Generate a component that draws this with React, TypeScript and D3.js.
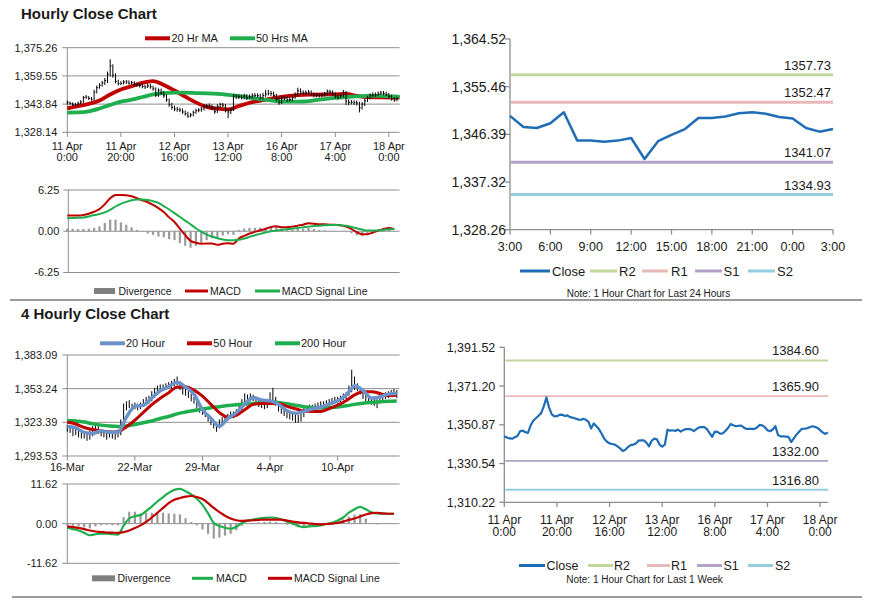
import React, { useEffect, useRef } from 'react';
import * as d3 from 'd3';

const FONT = '"Liberation Sans", Arial, Helvetica, sans-serif';
const GRID = '#8e8e8e';
const TEXT = '#1a1a1a';
const RED = '#c00000';
const GREEN = '#1fae4e';
const BLUE_MA = '#6b93c9';
const CLOSE_BLUE = '#1f6db6';
const LEVEL_COLORS: Record<string, string> = { R2: '#c3d69b', R1: '#e6b9b8', S1: '#b3a2c7', S2: '#93cddd' };

// ---------- hourly data, 11 Apr 0:00 -> 18 Apr 3:00 (one value per hour) ----------
const weekTickHours = [0, 20, 40, 60, 80, 100, 120];
const weekTickLabels = [
  ['11 Apr', '0:00'], ['11 Apr', '20:00'], ['12 Apr', '16:00'], ['13 Apr', '12:00'],
  ['16 Apr', '8:00'], ['17 Apr', '4:00'], ['18 Apr', '0:00'],
];
const hourlyClose = [
  1344.8, 1344.2, 1343.7, 1343.6, 1344.3, 1345.0, 1347.5, 1347.8, 1347.0, 1346.6,
  1350.5, 1353.0, 1354.3, 1355.6, 1357.0, 1360.5, 1365.2, 1360.0, 1356.5, 1355.3,
  1355.4, 1356.1, 1356.2, 1355.5, 1355.8, 1354.9, 1354.6, 1354.2, 1353.7, 1353.4,
  1354.0, 1353.5, 1352.4, 1348.9, 1351.6, 1350.1, 1348.5, 1346.2, 1343.5, 1342.0,
  1341.1, 1340.8, 1340.5, 1339.5, 1338.5, 1337.1, 1337.8, 1339.2, 1340.2, 1340.5,
  1341.1, 1342.6, 1342.7, 1342.7, 1341.5, 1339.6, 1342.5, 1343.6, 1343.2, 1340.5,
  1339.4, 1340.5, 1348.3, 1347.8, 1348.0, 1347.6, 1348.4, 1347.3, 1348.1, 1348.6,
  1348.6, 1348.5, 1347.6, 1348.6, 1349.5, 1349.7, 1349.7, 1348.6, 1346.5, 1344.6,
  1347.3, 1347.2, 1346.2, 1346.4, 1347.6, 1349.2, 1351.3, 1350.6, 1350.1, 1350.3,
  1350.5, 1349.4, 1348.7, 1348.7, 1348.7, 1348.7, 1349.4, 1350.8, 1350.6, 1349.6,
  1348.0, 1347.5, 1348.4, 1350.2, 1345.5, 1344.8, 1344.8, 1344.7, 1344.5, 1341.8,
  1343.8, 1345.7, 1347.2, 1348.7, 1348.8, 1349.0, 1349.6, 1350.1, 1349.8, 1349.2,
  1348.1, 1346.8, 1346.1, 1346.9,
];
const hourlyHigh = [
  1345.8, 1345.3, 1344.8, 1344.5, 1345.2, 1346.0, 1348.4, 1348.9, 1348.3, 1347.8,
  1351.8, 1354.2, 1355.5, 1356.8, 1358.4, 1362.0, 1368.8, 1366.0, 1361.0, 1357.4,
  1356.6, 1357.2, 1357.3, 1357.0, 1356.8, 1356.6, 1355.8, 1355.5, 1355.2, 1354.6,
  1355.2, 1355.0, 1354.1, 1353.2, 1352.6, 1352.5, 1351.0, 1349.3, 1347.0, 1344.6,
  1343.0, 1342.2, 1341.9, 1341.4, 1340.3, 1339.6, 1338.9, 1340.3, 1341.3, 1341.6,
  1342.2, 1343.7, 1343.9, 1344.2, 1343.6, 1342.4, 1343.8, 1344.6, 1344.5, 1343.9,
  1341.6, 1341.8, 1349.5, 1349.4, 1349.1, 1349.0, 1349.6, 1349.4, 1349.2, 1349.9,
  1350.0, 1349.8, 1349.6, 1350.1, 1351.6, 1351.8, 1351.2, 1350.8, 1349.6, 1347.6,
  1348.4, 1348.5, 1348.3, 1347.6, 1348.7, 1350.4, 1353.0, 1352.6, 1351.5, 1351.4,
  1351.7, 1351.5, 1350.3, 1349.8, 1349.9, 1350.0, 1350.6, 1352.0, 1351.9, 1351.5,
  1350.4, 1349.0, 1349.6, 1351.8, 1351.2, 1346.5, 1346.2, 1346.0, 1345.9, 1345.2,
  1345.0, 1346.9, 1348.4, 1349.8, 1350.4, 1350.3, 1350.9, 1351.2, 1351.1, 1350.8,
  1350.0, 1349.1, 1347.8, 1347.9,
];
const hourlyLow = [
  1343.6, 1343.4, 1342.9, 1342.8, 1343.0, 1343.8, 1344.6, 1346.8, 1346.2, 1345.7,
  1346.0, 1349.8, 1352.4, 1353.6, 1354.5, 1355.6, 1359.2, 1358.5, 1355.4, 1354.2,
  1354.4, 1354.8, 1355.1, 1354.6, 1354.7, 1353.8, 1353.5, 1353.1, 1352.6, 1352.3,
  1352.8, 1352.4, 1351.3, 1347.8, 1347.9, 1349.0, 1347.4, 1345.1, 1342.4, 1340.8,
  1339.9, 1339.6, 1339.4, 1338.4, 1337.4, 1336.2, 1336.5, 1337.0, 1338.4, 1339.3,
  1339.6, 1340.3, 1341.6, 1341.5, 1340.4, 1338.5, 1338.9, 1341.7, 1342.1, 1339.2,
  1336.0, 1338.3, 1340.0, 1346.7, 1346.6, 1346.5, 1346.5, 1346.2, 1346.6, 1347.0,
  1347.5, 1347.4, 1346.4, 1346.5, 1347.9, 1348.6, 1348.4, 1347.5, 1345.4, 1343.5,
  1344.0, 1346.0, 1345.2, 1345.3, 1345.5, 1346.8, 1348.4, 1349.5, 1348.9, 1349.0,
  1349.2, 1348.4, 1347.6, 1347.6, 1347.5, 1347.6, 1348.1, 1348.7, 1349.4, 1348.5,
  1347.0, 1346.4, 1347.0, 1347.6, 1343.4, 1343.2, 1343.6, 1343.4, 1343.0, 1339.2,
  1340.8, 1342.8, 1345.0, 1346.4, 1347.7, 1347.9, 1348.2, 1349.0, 1348.8, 1348.3,
  1347.1, 1345.8, 1345.1, 1345.4,
];
// moving averages read every 4 hours
const ma20Hr = [
  1341.5, 1342.7, 1344.0, 1345.8, 1349.2, 1352.0, 1353.8, 1355.7, 1356.6, 1354.5,
  1351.4, 1348.0, 1344.8, 1342.3, 1341.3, 1340.9, 1342.8, 1344.6, 1345.8, 1346.9,
  1347.9, 1348.6, 1349.0, 1349.1, 1349.2, 1349.3, 1349.5, 1348.4, 1347.7, 1347.6,
  1347.5, 1347.4,
];
const ma50Hr = [
  1339.1, 1339.2, 1339.8, 1341.4, 1343.4, 1345.2, 1346.3, 1347.8, 1349.2, 1350.0,
  1350.2, 1350.2, 1350.0, 1349.8, 1349.5, 1349.0, 1348.4, 1347.4, 1346.6, 1345.9,
  1345.3, 1345.2, 1345.3, 1345.9, 1346.6, 1347.3, 1347.8, 1348.2, 1348.4, 1348.4,
  1348.2, 1348.0,
];
// MACD read every 2 hours
const macdHourly = [
  2.37, 2.37, 2.37, 2.45, 2.65, 2.95, 3.35, 4.1, 5.0, 5.5, 5.5, 5.45, 5.3, 5.0, 4.7, 4.4,
  4.0, 3.5, 2.9, 2.1, 1.4, 0.4, -0.6, -1.45, -1.75, -1.9, -1.85, -1.85, -2.05, -1.9, -1.8,
  -1.9, -1.1, -0.7, -0.35, -0.1, 0.15, 0.35, 0.65, 0.75, 0.6, 0.6, 0.7, 0.85, 1.0, 1.2,
  1.15, 1.05, 1.05, 1.0, 1.0, 0.9, 0.7, 0.35, -0.15, -0.45, -0.45, -0.2, 0.1, 0.35, 0.5, 0.3,
];
const signalHourly = [
  1.97, 2.0, 2.05, 2.1, 2.25, 2.45, 2.6, 2.85, 3.25, 3.75, 4.15, 4.45, 4.7, 4.8, 4.8, 4.75,
  4.55, 4.3, 3.8, 3.3, 2.75, 2.2, 1.6, 1.05, 0.45, -0.05, -0.5, -0.8, -1.05, -1.25, -1.35,
  -1.35, -1.3, -1.1, -0.85, -0.6, -0.4, -0.2, 0.0, 0.1, 0.2, 0.3, 0.4, 0.5, 0.6, 0.7,
  0.8, 0.85, 0.9, 0.95, 0.95, 0.9, 0.85, 0.65, 0.45, 0.25, 0.1, 0.1, 0.15, 0.2, 0.3, 0.35,
];
const hourlyPriceTicks = [1328.14, 1343.84, 1359.55, 1375.26];
const hourlyMacdTicks = [-6.25, 0, 6.25];

// ---------- last 24 hours ----------
const dayTickLabels = ['3:00', '6:00', '9:00', '12:00', '15:00', '18:00', '21:00', '0:00', '3:00'];
const dayClose = [
  1349.9, 1347.8, 1347.6, 1348.5, 1350.6, 1345.2, 1345.2, 1345.0, 1345.2, 1345.7,
  1341.7, 1345.1, 1346.3, 1347.4, 1349.5, 1349.5, 1349.8, 1350.4, 1350.6, 1350.3,
  1349.7, 1349.4, 1347.6, 1346.9, 1347.4,
];
const dayTicks = [1328.26, 1337.32, 1346.39, 1355.46, 1364.52];
const levelNames = ['R2', 'R1', 'S1', 'S2'];
const dayLevels = [1357.73, 1352.47, 1341.07, 1334.93];
const weekLevels = [1384.6, 1365.9, 1332.0, 1316.8];
const weekTicks = [1310.22, 1330.54, 1350.87, 1371.2, 1391.52];

// ---------- 4 hourly data, 16-Mar -> 18-Apr (one bar per 4 hours) ----------
const fourTickBars = [0, 24, 48, 72, 96];
const fourTickLabels = ['16-Mar', '22-Mar', '29-Mar', '4-Apr', '10-Apr'];
const fourHigh = [
  1321, 1320, 1319, 1318, 1317, 1316, 1315, 1314, 1316, 1320,
  1321, 1320, 1317, 1316, 1315, 1316, 1315, 1314, 1317, 1326,
  1340, 1342, 1343, 1340, 1341, 1340, 1341, 1344, 1346, 1347,
  1351, 1354, 1356, 1357, 1357, 1358, 1359, 1360, 1362, 1364,
  1360, 1354, 1353, 1351, 1349, 1346, 1344, 1339, 1336, 1334,
  1331, 1328, 1325, 1323, 1326, 1328, 1330, 1331, 1333, 1333,
  1335, 1339, 1344, 1349, 1348, 1349, 1348, 1346, 1344, 1343,
  1342, 1344, 1350, 1354, 1346, 1340, 1338, 1336, 1334, 1333,
  1332, 1331, 1330, 1332, 1336, 1338, 1339, 1339, 1340, 1341,
  1342, 1342, 1343, 1344, 1345, 1346, 1346, 1347, 1349, 1350,
  1356, 1370, 1364, 1358, 1355, 1352, 1348, 1347, 1346, 1345,
  1344, 1347, 1349, 1350, 1351, 1352, 1353, 1352,
];
const fourLow = [
  1315, 1314, 1311, 1312, 1310, 1309, 1309, 1307, 1308, 1311,
  1315, 1313, 1311, 1310, 1308, 1310, 1309, 1308, 1310, 1312,
  1320, 1334, 1336, 1334, 1335, 1334, 1335, 1337, 1339, 1340,
  1342, 1345, 1348, 1350, 1351, 1352, 1353, 1353, 1355, 1356,
  1352, 1348, 1347, 1345, 1342, 1340, 1336, 1332, 1330, 1328,
  1324, 1321, 1318, 1315, 1318, 1321, 1324, 1325, 1327, 1327,
  1329, 1331, 1334, 1340, 1342, 1342, 1342, 1340, 1337, 1336,
  1335, 1336, 1340, 1343, 1338, 1333, 1331, 1329, 1327, 1326,
  1325, 1323, 1323, 1324, 1328, 1332, 1333, 1333, 1334, 1335,
  1336, 1336, 1337, 1338, 1339, 1340, 1340, 1341, 1343, 1344,
  1347, 1350, 1352, 1351, 1348, 1344, 1342, 1340, 1339, 1338,
  1336, 1340, 1343, 1344, 1345, 1346, 1346, 1345,
];
// moving averages read every 3 bars
const ma20Hour = [
  1319.6, 1318.4, 1314.5, 1313.5, 1315.9, 1314.5, 1314.5, 1328.0, 1337.5, 1338.5,
  1345.0, 1351.4, 1355.0, 1359.0, 1354.6, 1348.3, 1334.6, 1327.0, 1319.8, 1326.8,
  1331.9, 1339.5, 1345.5, 1343.2, 1342.4, 1339.4, 1333.6, 1331.4, 1333.1, 1335.3,
  1337.0, 1339.7, 1342.5, 1347.5, 1355.6, 1351.7, 1344.8, 1345.8, 1348.4, 1348.9,
];
const ma50Hour = [
  1323.4, 1321.9, 1318.8, 1317.0, 1315.8, 1314.8, 1315.0, 1319.5, 1325.3, 1332.2,
  1339.0, 1344.8, 1349.7, 1354.6, 1355.0, 1351.9, 1346.6, 1339.3, 1332.0, 1328.0,
  1329.5, 1334.5, 1339.3, 1340.1, 1340.1, 1340.1, 1337.5, 1335.4, 1333.5, 1333.1,
  1333.1, 1335.6, 1338.7, 1342.6, 1347.7, 1350.6, 1350.6, 1349.0, 1347.0, 1347.4,
];
const ma200Hour = [
  1324.9, 1324.5, 1323.6, 1322.0, 1320.9, 1320.1, 1319.7, 1320.2, 1321.5, 1323.0,
  1324.6, 1326.8, 1328.6, 1330.9, 1332.5, 1333.9, 1335.3, 1336.4, 1337.3, 1338.3,
  1339.0, 1339.5, 1340.0, 1340.8, 1341.8, 1341.0, 1339.8, 1338.5, 1337.3, 1336.3,
  1336.2, 1336.5, 1337.0, 1338.0, 1339.3, 1340.3, 1341.0, 1341.6, 1342.1, 1342.4,
];
// MACD read every 2 bars
const macdFour = [
  -1.2, -1.6, -2.0, -2.7, -3.4, -3.1, -2.9, -2.9, -3.1, -3.2, -0.6, 1.5, 2.2, 2.5, 3.7,
  5.0, 6.5, 7.8, 9.0, 9.9, 10.2, 9.5, 8.6, 7.3, 5.5, 3.0, 0.2, -0.7, -1.2, -1.5,
  -0.9, 0.2, 0.9, 1.2, 1.5, 1.7, 1.8, 1.7, 1.2, 0.6, 0.1, -0.7, -1.0, -0.8, -0.7,
  -0.5, -0.1, 0.25, 0.9, 1.8, 3.2, 4.2, 4.9, 4.2, 3.3, 3.0, 2.9, 2.9, 2.9,
];
const signalFour = [
  -0.8, -1.0, -1.25, -1.6, -2.0, -2.3, -2.45, -2.6, -2.65, -2.7, -2.5, -2.0, -1.3, -0.5, 0.5,
  1.8, 3.2, 4.6, 6.0, 7.0, 7.5, 7.9, 8.1, 7.8, 7.2, 6.0, 4.6, 3.4, 2.3, 1.5,
  1.0, 0.8, 0.9, 1.0, 1.1, 1.2, 1.2, 1.2, 1.2, 0.9, 0.6, 0.35, 0.2, 0.05, -0.1,
  -0.2, -0.1, 0.0, 0.2, 0.6, 1.1, 1.5, 2.1, 2.7, 3.1, 3.2, 3.0, 2.9, 2.9,
];
const fourPriceTicks = [1293.53, 1323.39, 1353.24, 1383.09];
const fourMacdTicks = [-11.62, 0, 11.62];

const fmtPrice = d3.format(',.2f');
const fmtLevel = d3.format('.2f');
const fmtMacd = (v: number) => d3.format('.2f')(v).replace('\u2212', '-');

function label(g: any, x: number, y: number, s: string, size: number, anchor = 'start', weight = 'normal') {
  return g.append('text').attr('x', x).attr('y', y).attr('font-size', size)
    .attr('text-anchor', anchor).attr('font-weight', weight).attr('fill', TEXT).text(s);
}

// gridlines + left axis for the Excel style panels on the left
function leftGrid(g: any, y: any, ticks: number[], x0: number, x1: number, fmt: (v: number) => string, size: number, gap: number) {
  ticks.forEach(t => {
    g.append('line').attr('x1', x0 - 5).attr('x2', x1).attr('y1', y(t)).attr('y2', y(t))
      .attr('stroke', GRID).attr('stroke-width', 1);
    label(g, x0 - gap, y(t) + size * 0.35, fmt(t), size, 'end');
  });
  g.append('line').attr('x1', x0).attr('x2', x0).attr('y1', y.range()[1]).attr('y2', y.range()[0])
    .attr('stroke', GRID);
}

function maLine(g: any, x: any, y: any, vals: number[], step: number, last: number, color: string, width: number) {
  const pts: [number, number][] = vals.map((v, i) => [Math.min(i * step, last), v]);
  const line = d3.line<[number, number]>().x(d => x(d[0])).y(d => y(d[1])).curve(d3.curveMonotoneX);
  g.append('path').attr('d', line(pts)).attr('fill', 'none').attr('stroke', color)
    .attr('stroke-width', width).attr('stroke-linejoin', 'round');
}

function divergence(g: any, x: any, y: any, macd: number[], signal: number[], step: number) {
  macd.forEach((m, i) => {
    const d = m - signal[i];
    g.append('rect').attr('x', x(i * step) - 1.1).attr('width', 2.2)
      .attr('y', Math.min(y(d), y(0))).attr('height', Math.abs(y(d) - y(0))).attr('fill', '#9a9a9a');
  });
}

type LegendItem = { text: string; color: string; x0: number; x1: number; tx: number; w?: number; rect?: boolean };
function legend(g: any, y: number, items: LegendItem[], size: number) {
  items.forEach(it => {
    if (it.rect) {
      g.append('rect').attr('x', it.x0).attr('y', y - 3).attr('width', it.x1 - it.x0).attr('height', 6).attr('fill', '#7f7f7f');
    } else {
      g.append('line').attr('x1', it.x0).attr('x2', it.x1).attr('y1', y).attr('y2', y)
        .attr('stroke', it.color).attr('stroke-width', it.w ?? 3);
    }
    label(g, it.tx, y + size * 0.36, it.text, size);
  });
}

function pivotPanel(g: any, x: any, y: any, ticks: number[], tickSize: number, tickGap: number,
  levels: number[], levelW: number, labelRight: number, close: number[], closeW: number) {
  const [x0, x1] = x.range();
  const [yb, yt] = y.range();
  g.append('line').attr('x1', x0).attr('x2', x0).attr('y1', yt).attr('y2', yb).attr('stroke', GRID).attr('stroke-width', 1.3);
  g.append('line').attr('x1', x0).attr('x2', x1).attr('y1', yb).attr('y2', yb).attr('stroke', GRID).attr('stroke-width', 1.3);
  ticks.forEach(t => {
    g.append('line').attr('x1', x0 - 5).attr('x2', x0).attr('y1', y(t)).attr('y2', y(t)).attr('stroke', GRID).attr('stroke-width', 1.3);
    label(g, x0 - tickGap, y(t) + tickSize * 0.36, fmtPrice(t), tickSize, 'end');
  });
  levels.forEach((v, i) => {
    g.append('line').attr('x1', x0 + 1).attr('x2', x1).attr('y1', y(v)).attr('y2', y(v))
      .attr('stroke', LEVEL_COLORS[levelNames[i]]).attr('stroke-width', levelW);
    label(g, labelRight, y(v) - 5, fmtLevel(v), 13, 'end');
  });
  const line = d3.line<number>().x((_, i) => x(i)).y(d => y(d));
  g.append('path').attr('d', line(close)).attr('fill', 'none').attr('stroke', CLOSE_BLUE)
    .attr('stroke-width', closeW).attr('stroke-linejoin', 'round');
}

function pivotLegend(g: any, y: number, xs: number[][], size: number) {
  const names = ['Close', ...levelNames];
  const colors = [CLOSE_BLUE, ...levelNames.map(n => LEVEL_COLORS[n])];
  legend(g, y, names.map((n, i) => ({ text: n, color: colors[i], x0: xs[i][0], x1: xs[i][1], tx: xs[i][2], w: 3 })), size);
}

function App() {
  const ref = useRef<SVGSVGElement>(null);

  useEffect(() => {
    if (!ref.current) return;
    const svg = d3.select(ref.current);
    svg.selectAll('*').remove();
    svg.append('rect').attr('width', 873).attr('height', 601).attr('fill', '#fff');
    const g = svg.append('g');

    // titles and separators
    label(g, 21, 18.5, 'Hourly Close Chart', 15, 'start', 'bold');
    label(g, 21, 318.5, '4 Hourly Close Chart', 15, 'start', 'bold');
    g.append('line').attr('x1', 10).attr('x2', 862).attr('y1', 300).attr('y2', 300).attr('stroke', '#7a7a7a').attr('stroke-width', 1.3);
    g.append('line').attr('x1', 12).attr('x2', 862).attr('y1', 597).attr('y2', 597).attr('stroke', '#7a7a7a').attr('stroke-width', 1.3);

    // ---- panel 1: hourly bars with MAs ----
    const xH = d3.scaleLinear().domain([0, 124]).range([67.3, 399.6]);
    const yH = d3.scaleLinear().domain([1328.14, 1375.26]).range([132.3, 47.7]);
    leftGrid(g, yH, hourlyPriceTicks, 67.3, 399.6, fmtPrice, 11, 10);
    weekTickHours.forEach((h, i) => {
      g.append('line').attr('x1', xH(h)).attr('x2', xH(h)).attr('y1', 132.3).attr('y2', 137).attr('stroke', GRID);
      label(g, xH(h), 149.5, weekTickLabels[i][0], 11, 'middle');
      label(g, xH(h), 160.5, weekTickLabels[i][1], 11, 'middle');
    });
    maLine(g, xH, yH, ma20Hr, 4, 124, RED, 3.8);
    maLine(g, xH, yH, ma50Hr, 4, 124, GREEN, 3.8);
    hourlyClose.forEach((c, h) => {
      const x = xH(h);
      g.append('line').attr('x1', x).attr('x2', x).attr('y1', yH(hourlyLow[h])).attr('y2', yH(hourlyHigh[h]))
        .attr('stroke', '#000').attr('stroke-width', 1);
      g.append('line').attr('x1', x).attr('x2', x + 1.3).attr('y1', yH(c)).attr('y2', yH(c))
        .attr('stroke', '#000').attr('stroke-width', 1);
    });
    legend(g, 38.3, [
      { text: '20 Hr MA', color: RED, x0: 145, x1: 170, tx: 171.5, w: 4 },
      { text: '50 Hrs MA', color: GREEN, x0: 230, x1: 255, tx: 256, w: 4 },
    ], 11);

    // ---- panel 2: hourly MACD ----
    const yM = d3.scaleLinear().domain([-6.25, 6.25]).range([272.5, 190]);
    leftGrid(g, yM, hourlyMacdTicks, 68.3, 399.6, fmtMacd, 11, 9);
    divergence(g, xH, yM, macdHourly, signalHourly, 2);
    maLine(g, xH, yM, macdHourly, 2, 124, RED, 2);
    maLine(g, xH, yM, signalHourly, 2, 124, GREEN, 2);
    legend(g, 291, [
      { text: 'Divergence', color: '#7f7f7f', x0: 94, x1: 115, tx: 118.5, rect: true },
      { text: 'MACD', color: RED, x0: 185, x1: 208, tx: 210 },
      { text: 'MACD Signal Line', color: GREEN, x0: 255, x1: 280, tx: 281.7 },
    ], 10.5);

    // ---- panel 3: last 24 hours pivots ----
    const xD = d3.scaleLinear().domain([0, 24]).range([510, 833]);
    const yD = d3.scaleLinear().domain([1328.26, 1364.52]).range([229.7, 39]);
    pivotPanel(g, xD, yD, dayTicks, 14, 4, dayLevels, 3, 831, dayClose, 2.5);
    dayTickLabels.forEach((s, i) => {
      const x = xD(i * 3);
      g.append('line').attr('x1', x).attr('x2', x).attr('y1', 229.7).attr('y2', 234.5).attr('stroke', GRID).attr('stroke-width', 1.3);
      label(g, x, 251, s, 12.5, 'middle');
    });
    pivotLegend(g, 271, [[520, 550, 552], [590, 617, 619], [642, 668, 671], [695, 722, 723.5], [748, 775, 777]], 13);
    label(g, 648.5, 296.5, 'Note: 1 Hour Chart for Last 24 Hours', 10, 'middle');

    // ---- panel 4: 4 hourly bars with MAs ----
    const xF = d3.scaleLinear().domain([0, 118]).range([67.3, 399.6]);
    const yF = d3.scaleLinear().domain([1293.53, 1383.09]).range([456, 355]);
    leftGrid(g, yF, fourPriceTicks, 67.3, 399.6, fmtPrice, 11, 10);
    fourTickBars.forEach((b, i) => {
      g.append('line').attr('x1', xF(b)).attr('x2', xF(b)).attr('y1', 456).attr('y2', 460.5).attr('stroke', GRID);
      label(g, xF(b), 470.5, fourTickLabels[i], 11, 'middle');
    });
    fourHigh.forEach((hi, i) => {
      g.append('line').attr('x1', xF(i)).attr('x2', xF(i)).attr('y1', yF(fourLow[i])).attr('y2', yF(hi))
        .attr('stroke', '#000').attr('stroke-width', 1);
    });
    maLine(g, xF, yF, ma200Hour, 3, 117, GREEN, 3.5);
    maLine(g, xF, yF, ma50Hour, 3, 117, RED, 3);
    maLine(g, xF, yF, ma20Hour, 3, 117, BLUE_MA, 3.5);
    legend(g, 343.3, [
      { text: '20 Hour', color: BLUE_MA, x0: 100, x1: 125, tx: 126, w: 4 },
      { text: '50 Hour', color: RED, x0: 187, x1: 212, tx: 213.3, w: 4 },
      { text: '200 Hour', color: GREEN, x0: 275, x1: 300, tx: 301, w: 4 },
    ], 11);

    // ---- panel 5: 4 hourly MACD ----
    const yN = d3.scaleLinear().domain([-11.62, 11.62]).range([563.3, 484]);
    leftGrid(g, yN, fourMacdTicks, 67.3, 399.6, fmtMacd, 11, 10);
    divergence(g, xF, yN, macdFour, signalFour, 2);
    maLine(g, xF, yN, macdFour, 2, 117, GREEN, 2.2);
    maLine(g, xF, yN, signalFour, 2, 117, RED, 2.2);
    legend(g, 578.3, [
      { text: 'Divergence', color: '#7f7f7f', x0: 92, x1: 115, tx: 117.5, rect: true },
      { text: 'MACD', color: GREEN, x0: 192, x1: 213, tx: 216 },
      { text: 'MACD Signal Line', color: RED, x0: 268, x1: 292, tx: 294 },
    ], 10.5);

    // ---- panel 6: last week pivots ----
    const xW = d3.scaleLinear().domain([0, 123]).range([504.3, 828]);
    const yW = d3.scaleLinear().domain([1310.22, 1391.52]).range([502.3, 347.3]);
    pivotPanel(g, xW, yW, weekTicks, 12.5, 9, weekLevels, 1.8, 819, hourlyClose, 2.2);
    weekTickHours.forEach((h, i) => {
      const x = xW(h);
      g.append('line').attr('x1', x).attr('x2', x).attr('y1', 502.3).attr('y2', 507).attr('stroke', GRID).attr('stroke-width', 1.3);
      label(g, x, 523.5, weekTickLabels[i][0], 12, 'middle');
      label(g, x, 536, weekTickLabels[i][1], 12, 'middle');
    });
    pivotLegend(g, 565.5, [[519, 545, 546.5], [588, 613, 614], [647, 670, 671], [697, 722, 723.5], [748, 773, 775]], 12.5);
    label(g, 644.5, 583, 'Note: 1 Hour Chart for Last 1 Week', 10, 'middle');
  }, []);

  return (
    <svg ref={ref} width={873} height={601}
      style={{ position: 'absolute', left: 0, top: 0, fontFamily: FONT }} />
  );
}

export default App;
